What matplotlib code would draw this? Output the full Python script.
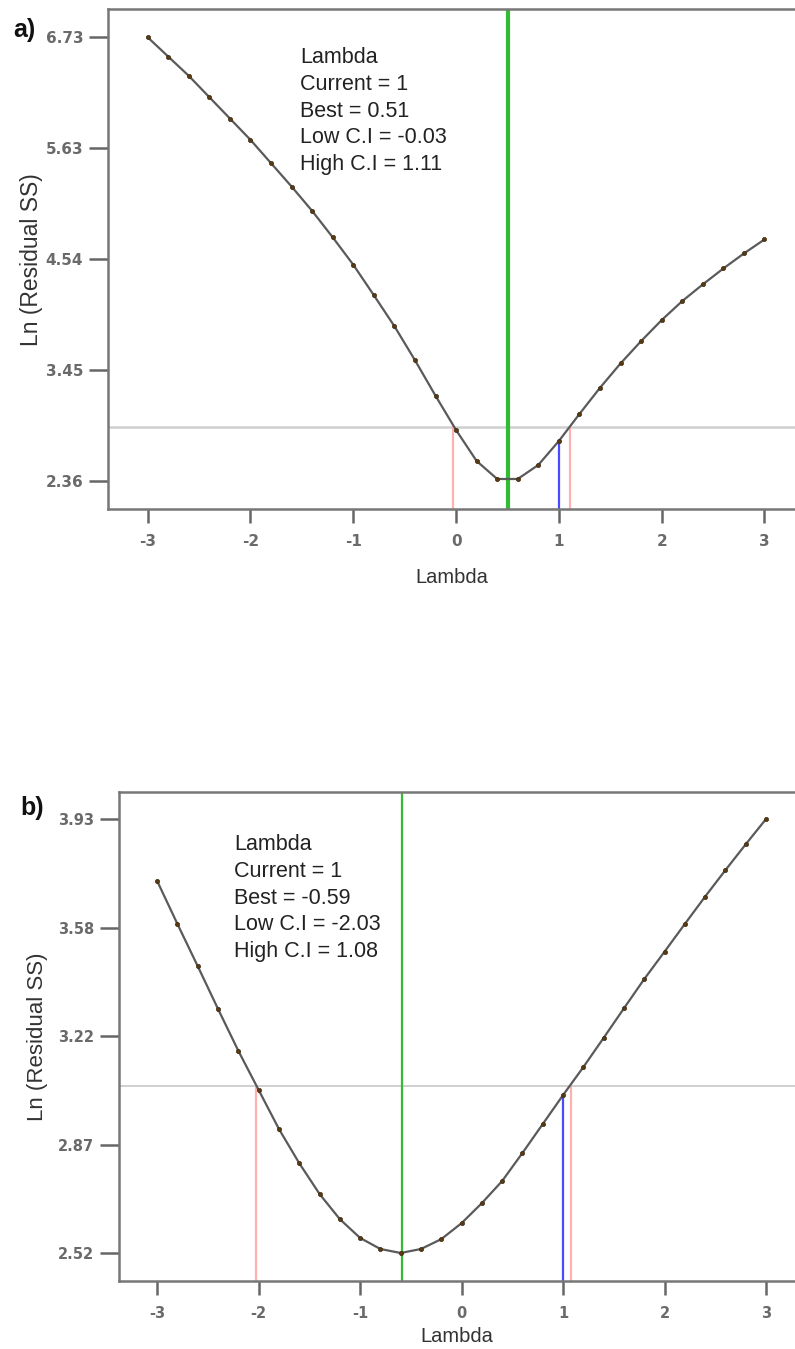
import matplotlib
matplotlib.use("Agg")
import matplotlib.pyplot as plt
import numpy as np

plt.rcParams['font.family'] = ['Liberation Sans', 'DejaVu Sans']

# Box-Cox lambda grid shared by both panels
lam = [round(-3 + 0.2 * i, 1) for i in range(31)]

# Panel a: ln(residual SS) over lambda
ln_ss_a = [6.73, 6.54, 6.35, 6.14, 5.93, 5.72, 5.49, 5.26, 5.02, 4.76,
           4.49, 4.19, 3.885, 3.55, 3.20, 2.862, 2.557, 2.38, 2.38, 2.518,
           2.754, 3.02, 3.278, 3.518, 3.738, 3.945, 4.132, 4.296, 4.453, 4.601,
           4.739]
stats_a = {"current": 1, "best": 0.51, "low": -0.03, "high": 1.11, "cutoff": 2.894}
yticks_a = [2.36, 3.4525, 4.545, 5.6375, 6.73]
yticklabels_a = ["2.36", "3.45", "4.54", "5.63", "6.73"]

# Panel b: ln(residual SS) over lambda
ln_ss_b = [3.730, 3.590, 3.453, 3.314, 3.178, 3.051, 2.924, 2.813, 2.713, 2.631,
           2.570, 2.534, 2.521, 2.534, 2.566, 2.618, 2.683, 2.755, 2.846, 2.940,
           3.034, 3.125, 3.220, 3.316, 3.411, 3.500, 3.590, 3.679, 3.765, 3.849,
           3.931]
stats_b = {"current": 1, "best": -0.59, "low": -2.03, "high": 1.08, "cutoff": 3.064}
yticks_b = [2.52, 2.8725, 3.225, 3.5775, 3.93]
yticklabels_b = ["2.52", "2.87", "3.22", "3.58", "3.93"]

xticks = [-3, -2, -1, 0, 1, 2, 3]

W, H = 795, 1349
fig = plt.figure(figsize=(W / 100, H / 100), dpi=100)


def frac_box(left_px, top_px, right_px, bottom_px):
    return [left_px / W, 1 - bottom_px / H, (right_px - left_px) / W,
            (bottom_px - top_px) / H]


def panel(ax, y, stats, yticks, yticklabels, xlim, ylim, green_lw, cut_lw,
          tick_fs, text_pos):
    ax.set_xlim(*xlim)
    ax.set_ylim(*ylim)
    x = np.array(lam)
    yv = np.array(y)
    # confidence interval and lambda markers
    ax.axhline(stats["cutoff"], color="#cfcfcf", lw=cut_lw, zorder=1)
    ax.plot([stats["low"], stats["low"]], [ylim[0], stats["cutoff"]],
            color="#ffb0b0", lw=1.6, zorder=2)
    ax.plot([stats["high"], stats["high"]], [ylim[0], stats["cutoff"]],
            color="#ffb0b0", lw=1.6, zorder=2)
    cur_y = float(np.interp(stats["current"], x, yv))
    ax.plot([stats["current"], stats["current"]], [ylim[0], cur_y],
            color="#4a4aff", lw=1.6, zorder=2)
    ax.axvline(stats["best"], color="#33bb33", lw=green_lw, zorder=2)
    # residual SS curve
    ax.plot(x, yv, color="#5a5a5a", lw=1.6, zorder=3)
    ax.plot(x, yv, ls="none", marker="o", ms=3.0, mfc="#5a3a12",
            mec="#3a2a10", mew=0.5, zorder=4)

    ax.set_xticks(xticks)
    ax.set_xticklabels([str(t) for t in xticks])
    ax.set_yticks(yticks)
    ax.set_yticklabels(yticklabels)
    ax.tick_params(axis="y", length=14, width=1.8, color="#666666",
                   labelcolor="#6a6a6a", labelsize=tick_fs, pad=4)
    ax.tick_params(axis="x", length=10, width=1.8, color="#666666",
                   labelcolor="#6a6a6a", labelsize=tick_fs, pad=8)
    for t in ax.get_xticklabels() + ax.get_yticklabels():
        t.set_fontweight("bold")
        t.set_family(["DejaVu Sans"])
    for side in ("left", "bottom", "top"):
        ax.spines[side].set_color("#777777")
        ax.spines[side].set_linewidth(1.8)
    ax.spines["right"].set_visible(False)

    txt = ("Lambda\nCurrent = {}\nBest = {}\nLow C.I = {}\nHigh C.I = {}"
           .format(stats["current"], stats["best"], stats["low"], stats["high"]))
    fig.text(text_pos[0] / W, 1 - text_pos[1] / H, txt, fontsize=15.5,
             color="#222222", va="top", ha="left", linespacing=1.36)
    return ax


ax_a = fig.add_axes(frac_box(108.3, 9.3, 795, 509))
panel(ax_a, ln_ss_a, stats_a, yticks_a, yticklabels_a,
      (-3.383, 3.297), (2.0844, 7.0056), 3.0, 1.8, 11, (300, 47))
ax_a.set_xlabel("Lambda", fontsize=14.5, color="#333333", labelpad=14)
ax_a.set_ylabel("Ln (Residual SS)", fontsize=16.5, color="#333333", labelpad=2)

ax_b = fig.add_axes(frac_box(119.3, 791.7, 795, 1281))
panel(ax_b, ln_ss_b, stats_b, yticks_b, yticklabels_b,
      (-3.373, 3.286), (2.430, 4.020), 1.6, 1.4, 10.5, (234, 834))
ax_b.set_xlabel("Lambda", fontsize=14.5, color="#333333", labelpad=4)
ax_b.set_ylabel("Ln (Residual SS)", fontsize=16, color="#333333", labelpad=7)

fig.text(13 / W, 1 - 30 / H, "a)", fontsize=18, fontweight="bold",
         color="#111111", va="center", ha="left")
fig.text(20 / W, 1 - 808 / H, "b)", fontsize=18, fontweight="bold",
         color="#111111", va="center", ha="left")

fig.savefig("out.png", dpi=100, facecolor="white")
